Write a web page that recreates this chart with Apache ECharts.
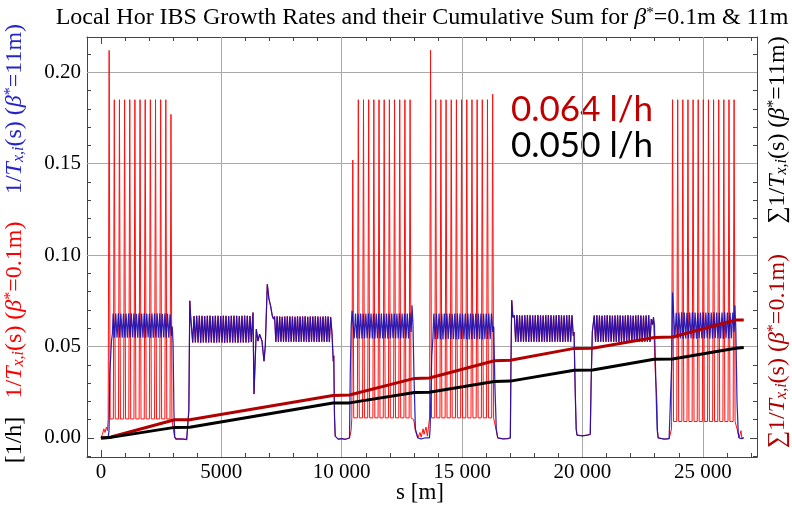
<!DOCTYPE html>
<html><head><meta charset="utf-8">
<script src="https://cdn.jsdelivr.net/npm/echarts@6/dist/echarts.min.js"></script>
<style>html,body{margin:0;padding:0;background:#fff}#c{width:792px;height:511px}</style>
</head><body><div id="c"></div>
<script>
// ---------- tick labels ----------
const xTickValues = [0, 5000, 10000, 15000, 20000, 25000];
const xTickLabels = ['0', '5000', '10 000', '15 000', '20 000', '25 000'];
const xMinorTicks = [1000,2000,3000,4000,6000,7000,8000,9000,11000,12000,13000,14000,16000,17000,18000,19000,21000,22000,23000,24000,26000,27000];
const yTickValues = [0, 0.05, 0.10, 0.15, 0.20];
const yTickLabels = ['0.00', '0.05', '0.10', '0.15', '0.20'];
const yMinorTicks = [-0.01,0.01,0.02,0.03,0.04,0.06,0.07,0.08,0.09,0.11,0.12,0.13,0.14,0.16,0.17,0.18,0.19,0.21];

// ---------- arc extents [s start, s end] (m) ----------
const arcBounds = [[506,2925],[3755,6245],[7212,9593],[10465,12884],[13826,16274],[17170,19618],[20490,22913],[23784,26299]];

// ---------- blue (beta*=11m) local rate, arcs: alternating max/min per half cell ----------
const blueArc12 = [0.068,0.055,0.068,0.0548,0.0682,0.055,0.068,0.0549,0.0679,0.055,0.0681,0.0548,0.068,0.0549,0.0682,0.055,0.068,0.0548,0.0679,0.0549,0.0681,0.055,0.068,0.0548,0.0682,0.0549,0.068,0.055,0.0679,0.0548,0.0681,0.0549,0.068,0.055,0.0682,0.0548,0.068,0.0549,0.0679,0.055,0.0681,0.0548,0.068,0.0549,0.0676,0.056];
const blueArc23 = [0.0668,0.0522,0.0667,0.0523,0.0668,0.0522,0.0669,0.0521,0.0668,0.0523,0.0667,0.0522,0.0668,0.0522,0.0669,0.0523,0.0667,0.0521,0.0668,0.0522,0.0668,0.0523,0.0667,0.0522,0.0669,0.0521,0.0668,0.0522,0.0667,0.0523,0.0668,0.0522,0.0669,0.0522,0.0668,0.0521,0.0667,0.0523,0.0668,0.0522,0.0669,0.0522,0.0668,0.0523,0.0667,0.0525];
const blueArc34 = [0.0664,0.0526,0.0665,0.0525,0.0664,0.0527,0.0663,0.0526,0.0664,0.0526,0.0665,0.0525,0.0664,0.0527,0.0664,0.0526,0.0663,0.0526,0.0665,0.0525,0.0664,0.0527,0.0664,0.0526,0.0665,0.0526,0.0663,0.0525,0.0664,0.0527,0.0664,0.0526,0.0665,0.0526,0.0664,0.0525,0.0663,0.0527,0.0664,0.0526,0.0665,0.0526,0.0664,0.0525,0.0662,0.058];
const blueArc45 = [0.0695,0.0544,0.068,0.0545,0.0681,0.0544,0.068,0.0543,0.0679,0.0544,0.068,0.0545,0.0681,0.0544,0.068,0.0544,0.0679,0.0543,0.068,0.0545,0.0681,0.0544,0.068,0.0544,0.0679,0.0545,0.068,0.0543,0.0681,0.0544,0.068,0.0545,0.0679,0.0544,0.068,0.0544,0.0681,0.0543,0.068,0.0545,0.0679,0.0544,0.068,0.0544,0.0685,0.058];
const blueArc56 = [0.068,0.054,0.0681,0.0541,0.068,0.054,0.0679,0.0539,0.068,0.054,0.0681,0.0541,0.068,0.054,0.0679,0.054,0.068,0.0539,0.0681,0.054,0.068,0.0541,0.0679,0.054,0.068,0.054,0.0681,0.0539,0.068,0.054,0.0679,0.0541,0.068,0.054,0.0681,0.054,0.068,0.0539,0.0679,0.054,0.068,0.0541,0.0681,0.054,0.068,0.058];
const blueArc67 = [0.0671,0.0526,0.0672,0.0525,0.0671,0.0527,0.067,0.0526,0.0671,0.0526,0.0672,0.0525,0.0671,0.0527,0.067,0.0526,0.0671,0.0526,0.0672,0.0525,0.0671,0.0526,0.067,0.0527,0.0671,0.0526,0.0672,0.0525,0.0671,0.0526,0.067,0.0527,0.0671,0.0526,0.0672,0.0526,0.0671,0.0525,0.067,0.0526,0.0671,0.0527,0.0672,0.0526,0.0671,0.056];
const blueArc78 = [0.067,0.0526,0.0671,0.0525,0.067,0.0527,0.0669,0.0526,0.067,0.0526,0.0671,0.0525,0.067,0.0527,0.0669,0.0526,0.067,0.0526,0.0671,0.0525,0.067,0.0526,0.0669,0.0527,0.067,0.0526,0.0671,0.0525,0.067,0.0526,0.0669,0.0527,0.067,0.0526,0.0671,0.0526,0.067,0.0525,0.0669,0.0526,0.067,0.0527,0.0671,0.0526,0.065,0.062];
const blueArc81 = [0.0686,0.0544,0.0685,0.0545,0.0686,0.0544,0.0687,0.0543,0.0686,0.0544,0.0685,0.0545,0.0686,0.0544,0.0687,0.0544,0.0686,0.0543,0.0685,0.0545,0.0686,0.0544,0.0687,0.0544,0.0686,0.0545,0.0685,0.0543,0.0686,0.0544,0.0687,0.0545,0.0686,0.0544,0.0685,0.0544,0.0686,0.0543,0.0687,0.0545,0.0686,0.0544,0.0685,0.0544,0.0686,0.058];

// ---------- blue, insertion regions [s, value] ----------
const blueIR1a = [[0,0.0003],[150,0.0],[300,0.0005],[335,0.004],[370,0.036],[436,0.053],[475,0.057]];
const blueIR2 = [[2960,0.061],[2995,0.052],[3030,0.015],[3062,0.0008],[3120,-0.0008],[3250,-0.0005],[3330,-0.001],[3450,-0.0006],[3560,-0.0009],[3618,0.0],[3650,0.015],[3690,0.075],[3722,0.067]];
const blueIR3 = [[6280,0.061],[6315,0.0686],[6357,0.024],[6452,0.0595],[6523,0.053],[6589,0.0568],[6689,0.053],[6772,0.042],[6826,0.0504],[6909,0.084],[6979,0.0759],[7046,0.0722],[7116,0.0668],[7170,0.065]];
const blueIR4 = [[9625,0.058],[9650,0.042],[9670,0.045],[9700,0.012],[9730,0.001],[9850,-0.0006],[10000,-0.0004],[10150,-0.0007],[10324,0.0],[10355,0.035],[10394,0.061],[10430,0.0695]];
const blueIR5 = [[12920,0.0726],[12960,0.062],[13000,0.035],[13060,0.005],[13162,0.0],[13300,-0.0005],[13450,0.0],[13643,0.0],[13672,0.005],[13740,0.045],[13790,0.055]];
const blueIR6 = [[16315,0.061],[16360,0.03],[16420,0.005],[16481,0.0],[16700,-0.0005],[16900,-0.0003],[17004,0.0],[17030,0.04],[17062,0.0753],[17110,0.066]];
const blueIR7 = [[19650,0.058],[19700,0.025],[19740,0.005],[19772,0.0016],[20000,0.0012],[20200,0.0016],[20324,0.002],[20360,0.03],[20410,0.058]];
const blueIR8 = [[22950,0.066],[22990,0.062],[23040,0.035],[23100,0.005],[23145,0.0],[23400,-0.0006],[23600,-0.0004],[23672,0.0],[23705,0.04],[23743,0.0795]];
const blueIR1b = [[26330,0.0726],[26369,0.06],[26420,0.02],[26470,0.003],[26507,0.0],[26600,-0.0003],[26700,0.0]];

// ---------- red (beta*=0.1m) local rate: spikes in arcs 12, 45, 56, 81 ----------
const redPeaks12 = [340,554,768,982,1196,1410,1624,1838,2052,2266,2480,2694,2908];
const redHeights12 = [0.212,0.185,0.185,0.185,0.185,0.185,0.185,0.185,0.185,0.185,0.185,0.185,0.177];
const redPeaks45 = [10460,10690,10905,11120,11335,11550,11765,11980,12195,12410,12625,12840];
const redHeights45 = [0.152,0.185,0.185,0.185,0.185,0.185,0.185,0.185,0.185,0.185,0.185,0.185];
const redPeaks56 = [13690,13905,14120,14335,14550,14765,14980,15195,15410,15625,15840,16055,16270];
const redHeights56 = [0.212,0.185,0.185,0.185,0.185,0.185,0.185,0.185,0.185,0.185,0.185,0.185,0.188];
const redPeaks81 = [23743,23956,24169,24382,24595,24808,25021,25234,25447,25660,25873,26086,26299];
const redHeights81 = [0.185,0.185,0.185,0.185,0.185,0.185,0.185,0.185,0.185,0.185,0.185,0.185,0.185];
const redTroughs = [0.0104, 0.011, 0.011, 0.009];

const redIR1a = [[0,0.0],[60,0.002],[120,0.005],[170,0.003],[230,0.006],[270,0.004],[300,0.0104]];
const redIR2 = [[2990,0.006],[3062,0.0],[3120,-0.0008],[3250,-0.0005],[3330,-0.001],[3450,-0.0006],[3560,-0.0009],[3618,0.0],[3650,0.015],[3690,0.075],[3722,0.067]];
const redIR4 = [[9625,0.058],[9650,0.042],[9670,0.045],[9700,0.012],[9730,0.001],[9850,-0.0006],[10000,-0.0004],[10150,-0.0007],[10324,0.0],[10390,0.004]];
const redIR5 = [[12920,0.011],[12990,0.01],[13060,0.004],[13162,0.0],[13250,0.003],[13300,0.0005],[13380,0.005],[13420,0.002],[13500,0.006],[13560,0.001],[13620,0.0]];
const redIR6 = [[16340,0.01],[16420,0.004],[16481,0.0],[16700,-0.0005],[16900,-0.0003],[17004,0.0],[17030,0.04],[17062,0.0753],[17110,0.066]];
const redIR8 = [[22950,0.066],[22979,0.054],[23030,0.035],[23090,0.021],[23120,0.004],[23145,0.0],[23400,-0.0006],[23600,-0.0004],[23672,0.0],[23700,0.005]];
const redIR1b = [[26350,0.009],[26420,0.005],[26507,0.0],[26560,0.0],[26585,0.004],[26620,0.0],[26700,0.0]];

// ---------- cumulative sums [s, value] ----------
const cumRed = [[0,0],[340,0.0003],[3062,0.0100],[3685,0.0100],[9635,0.0232],[10324,0.0235],[13021,0.0326],[13643,0.0328],[16340,0.0422],[17004,0.0425],[19660,0.0490],[20423,0.0491],[22979,0.0550],[23743,0.0552],[26369,0.0645],[26700,0.0645]];
const cumBlack = [[0,0],[340,0.0002],[3062,0.0058],[3685,0.0059],[9635,0.0191],[10324,0.0192],[13021,0.0249],[13643,0.0250],[16340,0.0309],[17004,0.0311],[19660,0.0371],[20423,0.0372],[22979,0.0431],[23743,0.0432],[26369,0.0491],[26700,0.0495]];

const gridX = [5000, 10000, 15000, 20000, 25000];
const gridY = [0.05, 0.10, 0.15, 0.20];

// ---------- build ----------
function arcPts(k, vals) {
  const a = arcBounds[k][0], b = arcBounds[k][1], n = vals.length;
  return vals.map((v, i) => [a + i * (b - a) / (n - 1), v]);
}
function spikes(peaks, heights, trough) {
  const out = [];
  peaks.forEach((p, i) => { out.push([p - 40, trough], [p, heights[i]], [p + 40, trough]); });
  return out;
}
const blueData = [].concat(blueIR1a, arcPts(0, blueArc12), blueIR2, arcPts(1, blueArc23), blueIR3, arcPts(2, blueArc34),
  blueIR4, arcPts(3, blueArc45), blueIR5, arcPts(4, blueArc56), blueIR6, arcPts(5, blueArc67), blueIR7, arcPts(6, blueArc78),
  blueIR8, arcPts(7, blueArc81), blueIR1b);
const redData = [].concat(redIR1a, spikes(redPeaks12, redHeights12, redTroughs[0]), redIR2, arcPts(1, blueArc23), blueIR3,
  arcPts(2, blueArc34), redIR4, spikes(redPeaks45, redHeights45, redTroughs[1]), redIR5, spikes(redPeaks56, redHeights56, redTroughs[2]),
  redIR6, arcPts(5, blueArc67), blueIR7, arcPts(6, blueArc78), redIR8, spikes(redPeaks81, redHeights81, redTroughs[3]), redIR1b);

const SERIF = 'Liberation Serif';
const FRAME = '#444';
const XMIN = -580, XMAX = 27250, YMIN = -0.0104, YMAX = 0.2193;

function xAx(pos, ticks, len, labels, line) {
  return {
    type: 'value', position: pos, min: XMIN, max: XMAX, gridIndex: 0,
    axisLine: { show: line, onZero: false, lineStyle: { color: FRAME, width: 1 } },
    axisTick: { show: true, inside: true, length: len, customValues: ticks, lineStyle: { color: FRAME, width: 1 } },
    axisLabel: labels ? { show: true, customValues: xTickValues, margin: 5, fontFamily: SERIF, fontSize: 21, color: '#000',
      formatter: v => xTickLabels[xTickValues.indexOf(v)] } : { show: false },
    splitLine: { show: false }
  };
}
function yAx(pos, ticks, len, labels, line) {
  return {
    type: 'value', position: pos, min: YMIN, max: YMAX, gridIndex: 0,
    axisLine: { show: line, onZero: false, lineStyle: { color: FRAME, width: 1 } },
    axisTick: { show: true, inside: true, length: len, customValues: ticks, lineStyle: { color: FRAME, width: 1 } },
    axisLabel: labels ? { show: true, customValues: yTickValues, margin: 6, fontFamily: SERIF, fontSize: 21, color: '#000',
      formatter: v => { let i = yTickValues.findIndex(t => Math.abs(t - v) < 1e-9); return i >= 0 ? yTickLabels[i] : ''; } } : { show: false },
    splitLine: { show: false }
  };
}

const TS = 24, TSS = 16;
function richSet(col) {
  return {
    n: { fontFamily: SERIF, fontSize: TS, fill: col },
    i: { fontFamily: SERIF, fontSize: TS, fontStyle: 'italic', fill: col },
    s: { fontFamily: SERIF, fontSize: TSS, fontStyle: 'italic', fill: col, verticalAlign: 'bottom' },
    p: { fontFamily: SERIF, fontSize: TSS, fill: col, verticalAlign: 'top' }
  };
}
const rateText = '{n|1/}{i|T}{s|x,i}{n|(s) (}{i|β}{p|*}{n|=';
const sumText = '{n|∑1/}{i|T}{s|x,i}{n|(s) (}{i|β}{p|*}{n|=';
function vText(x, y, text, col) {
  return { type: 'text', x: x, y: y, rotation: Math.PI / 2, style: { text: text, rich: richSet(col),
    align: 'center', verticalAlign: 'middle', textAlign: 'center', textVerticalAlign: 'middle' } };
}

const chart = echarts.init(document.getElementById('c'), null, { renderer: 'canvas' });
chart.setOption({
  animation: false,
  backgroundColor: '#fff',
  grid: { left: 87, right: 35, top: 37, bottom: 54, containLabel: false },
  xAxis: [
    xAx('bottom', xTickValues, 7, true, true),
    xAx('bottom', xMinorTicks, 4, false, false),
    xAx('top', xTickValues, 7, false, true),
    xAx('top', xMinorTicks, 4, false, false)
  ],
  yAxis: [
    yAx('left', yTickValues, 7, true, true),
    yAx('left', yMinorTicks, 4, false, false),
    yAx('right', yTickValues, 7, false, true),
    yAx('right', yMinorTicks, 4, false, false)
  ],
  graphic: [
    { type: 'text', x: 422, y: 18, style: {
      text: '{n|Local Hor IBS Growth Rates and their Cumulative Sum for }{i|β}{p|*}{n|=0.1m & 11m}',
      rich: { n: { fontFamily: SERIF, fontSize: 24, fill: '#000' }, i: { fontFamily: SERIF, fontSize: 24, fontStyle: 'italic', fill: '#000' },
              p: { fontFamily: SERIF, fontSize: 15, fill: '#000', verticalAlign: 'top' } },
      align: 'center', verticalAlign: 'middle', textAlign: 'center', textVerticalAlign: 'middle' } },
    { type: 'text', x: 420, y: 493, style: { text: 's [m]', fontFamily: SERIF, fontSize: 23, fill: '#000',
      align: 'center', verticalAlign: 'middle', textAlign: 'center', textVerticalAlign: 'middle' } },
    vText(15, 440, '{n|[1/h]}', '#000'),
    vText(15, 310, rateText + '0.1m)}', '#ff0000'),
    vText(15, 109, rateText + '11m)}', '#2424c8'),
    vText(778, 351, sumText + '0.1m)}', '#b00000'),
    vText(778, 130, sumText + '11m)}', '#000'),
    { type: 'text', x: 511, y: 110, style: { text: '0.064 l/h', fontFamily: 'Lato', fontSize: 35, fill: '#c00000',
      align: 'left', verticalAlign: 'middle', textAlign: 'left', textVerticalAlign: 'middle' } },
    { type: 'text', x: 511, y: 146, style: { text: '0.050 l/h', fontFamily: 'Lato', fontSize: 35, fill: '#000',
      align: 'left', verticalAlign: 'middle', textAlign: 'left', textVerticalAlign: 'middle' } }
  ],
  series: [
    { type: 'line', name: 'grid', data: [[XMIN, YMIN]], showSymbol: false, lineStyle: { opacity: 0 }, silent: true, z: 1,
      markLine: { silent: true, symbol: ['none', 'none'], z: 1, animation: false, label: { show: false },
        lineStyle: { color: '#a8a8a8', width: 1, type: 'solid' },
        data: gridX.map(v => ({ xAxis: v })).concat(gridY.map(v => ({ yAxis: v }))) } },
    { type: 'line', name: 'red', data: redData, showSymbol: false, symbol: 'none', z: 2,
      lineStyle: { color: '#ff1010', width: 1 } },
    { type: 'line', name: 'blue', data: blueData, showSymbol: false, symbol: 'none', z: 3,
      lineStyle: { color: '#1a0cb0', width: 1.25, opacity: 0.9 } },
    { type: 'line', name: 'cumRed', data: cumRed, showSymbol: false, symbol: 'none', z: 4,
      lineStyle: { color: '#b00000', width: 3 } },
    { type: 'line', name: 'cumBlack', data: cumBlack, showSymbol: false, symbol: 'none', z: 5,
      lineStyle: { color: '#000', width: 3 } }
  ]
});
</script></body></html>
